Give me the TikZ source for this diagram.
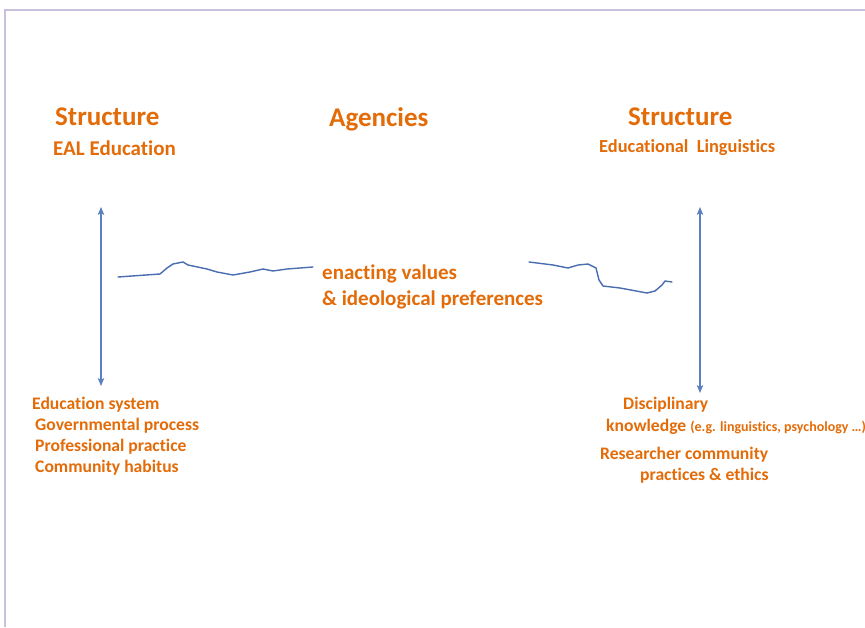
\documentclass[tikz,border=0pt]{standalone}
\usepackage{fontspec}
\setmainfont{Carlito}[Ligatures=NoCommon]
\usetikzlibrary{arrows.meta}
\definecolor{labelorange}{HTML}{E36C09}
\definecolor{arrowblue}{HTML}{5B7FC0}
\definecolor{strokeblue}{HTML}{4A6CB0}
\definecolor{framelilac}{HTML}{C9C0DD}
\tikzset{
  heading/.style={anchor=west, inner sep=0pt, text=labelorange, font=\bfseries\fontsize{27}{30}\selectfont},
  subhead/.style={anchor=west, inner sep=0pt, text=labelorange, font=\bfseries\fontsize{21}{24}\selectfont},
  item/.style={anchor=west, inner sep=0pt, text=labelorange, font=\bfseries\fontsize{17.6}{20}\selectfont},
  linkarrow/.style={draw=arrowblue, line width=1.1pt, {Stealth[length=8pt,width=6.5pt,inset=2pt]}-{Stealth[length=8pt,width=6.5pt,inset=2pt]}},
  stroke/.style={draw=strokeblue, line width=1.4pt, line join=round, line cap=round},
}
\begin{document}
\begin{tikzpicture}[x=1pt,y=-1pt]
\useasboundingbox (0,0) rectangle (865,627);
\fill[white] (0,0) rectangle (865,627);
% slide frame
\draw[framelilac, line width=2.2pt] (5,627) -- (5,10) -- (865,10);

% headings
\node[heading] (sl) at (55,117) {Structure};
\node[subhead] (eal) at (53,148) {EAL Education};
\node[heading] (ag) at (329,119) {Agencies};
\node[heading] (sr) at (628,117) {Structure};
\node[subhead, font=\bfseries\fontsize{18.4}{21}\selectfont] (el) at (599,148) {Educational\ \ Linguistics};

% central label
\node[subhead] (ev1) at (322,274) {enacting values};
\node[subhead] (ev2) at (322,300) {\&\ ideological preferences};

% left list
\node[item] (l1) at (32,405) {Education system};
\node[item] (l2) at (35,426) {Governmental process};
\node[item] (l3) at (35,447) {Professional practice};
\node[item] (l4) at (35,468) {Community habitus};

% right list
\node[item] (r1) at (623,405) {Disciplinary};
\node[item] (r2) at (606,427) {knowledge \fontsize{14}{16}\selectfont(e.g. linguistics, psychology \dots)};
\node[item] (r3) at (600,455) {Researcher community};
\node[item] (r4) at (640,476) {practices \& ethics};

% vertical links
\coordinate (lt) at (101,207);
\coordinate (lb) at (101,386);
\coordinate (rt) at (700,207);
\coordinate (rb) at (700,393);
\draw[linkarrow] (lt) -- (lb);
\draw[linkarrow] (rt) -- (rb);

% freehand strokes
\draw[stroke] (118,277) -- (160,274) -- (167,268) -- (173,264) -- (183,262) -- (188,265)
  -- (207,269) -- (217,272) -- (233,275) -- (250,272) -- (263,269) -- (273,271)
  -- (287,269) -- (300,268) -- (313,267);
\draw[stroke] (529,262) -- (553,265) -- (568,268) -- (578,265) -- (588,264) -- (596,268)
  -- (599,280) -- (603,286) -- (620,288) -- (647,293) -- (655,291) -- (662,285)
  -- (665,281) -- (672,282);
\end{tikzpicture}
\end{document}
